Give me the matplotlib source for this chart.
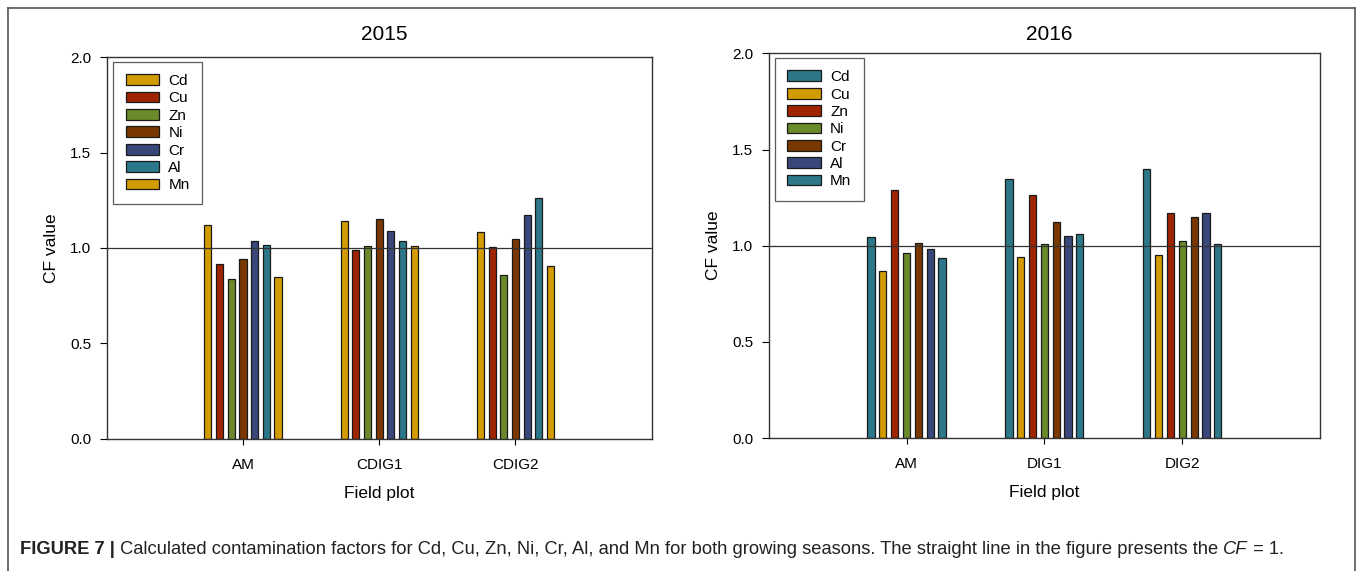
import matplotlib
matplotlib.use("Agg")
import matplotlib.pyplot as plt
import numpy as np
from matplotlib.patches import Patch
from matplotlib.lines import Line2D

plt.rcParams['font.family'] = ['Liberation Sans', 'DejaVu Sans']

# ---- data ----
plots_2015 = ["AM", "CDIG1", "CDIG2"]
metals_2015 = ["Cd", "Cu", "Zn", "Ni", "Cr", "Al", "Mn"]
cf_2015 = {
    "Cd": [1.118, 1.144, 1.083],
    "Cu": [0.917, 0.990, 1.004],
    "Zn": [0.836, 1.013, 0.857],
    "Ni": [0.940, 1.150, 1.048],
    "Cr": [1.036, 1.090, 1.172],
    "Al": [1.017, 1.036, 1.262],
    "Mn": [0.850, 1.010, 0.906],
}
colors_2015 = ["#D29B00", "#A02400", "#6B8A2A", "#7A3800", "#3A477A", "#2C788A", "#D29B00"]

plots_2016 = ["AM", "DIG1", "DIG2"]
metals_2016 = ["Cd", "Cu", "Zn", "Ni", "Cr", "Al", "Mn"]
cf_2016 = {
    "Cd": [1.045, 1.347, 1.397],
    "Cu": [0.867, 0.939, 0.952],
    "Zn": [1.288, 1.265, 1.172],
    "Ni": [0.964, 1.009, 1.024],
    "Cr": [1.014, 1.123, 1.147],
    "Al": [0.981, 1.050, 1.170],
    "Mn": [0.934, 1.061, 1.009],
}
colors_2016 = ["#2C788A", "#D29B00", "#A02400", "#6B8A2A", "#7A3800", "#3A477A", "#2C788A"]

W, H = 1358, 571
fig = plt.figure(figsize=(W / 100, H / 100), dpi=100)

# outer frame
fc = "#555555"
fig.add_artist(Line2D([8/W, 8/W], [0, 1-8/H], color=fc, lw=1.2, transform=fig.transFigure))
fig.add_artist(Line2D([8/W, 1355/W], [1-8/H, 1-8/H], color=fc, lw=1.2, transform=fig.transFigure))
fig.add_artist(Line2D([1355/W, 1355/W], [0, 1-8/H], color=fc, lw=1.2, transform=fig.transFigure))

def draw(ax, cats, metals, data, colors, title):
    x = np.arange(1, len(cats) + 1)
    step = 0.0857
    width = 0.052
    n = len(metals)
    for i, m in enumerate(metals):
        off = (i - (n - 1) / 2) * step
        ax.bar(x + off, data[m], width=width, color=colors[i], edgecolor="#1a1a1a", linewidth=0.9, zorder=2)
    ax.axhline(1.0, color="#333333", lw=0.9, zorder=3)
    ax.set_xlim(0, 4)
    ax.set_ylim(0, 2.0)
    ax.set_xticks(x)
    ax.set_xticklabels(cats, fontsize=11)
    ax.set_yticks([0.0, 0.5, 1.0, 1.5, 2.0])
    ax.set_yticklabels(["0.0", "0.5", "1.0", "1.5", "2.0"], fontsize=11)
    ax.tick_params(direction="out", length=5, width=0.8, pad=6)
    ax.tick_params(axis='x', length=4, pad=10)
    for s in ax.spines.values():
        s.set_linewidth(1.0)
        s.set_color("#333333")
    ax.set_xlabel("Field plot", fontsize=12.5, labelpad=10)
    ax.set_ylabel("CF value", fontsize=12.5, labelpad=8)
    bb = ax.get_position()
    fig.text((bb.x0 + bb.x1) / 2 + 5 / W, 1 - 34 / H, title, fontsize=15, ha="center", va="center")
    handles = [Patch(facecolor=colors[i], edgecolor="#1a1a1a", linewidth=0.9, label=m) for i, m in enumerate(metals)]
    leg = ax.legend(handles=handles, loc="upper left", bbox_to_anchor=(0.012, 0.988), fontsize=11,
                    frameon=True, fancybox=False, edgecolor="#333333", handlelength=2.2, handleheight=0.7,
                    labelspacing=0.22, borderpad=0.8, handletextpad=0.6, borderaxespad=0.0)
    leg.get_frame().set_linewidth(0.9)

ax1 = fig.add_axes([0.0786, 0.2317, 0.4013, 0.668])
draw(ax1, plots_2015, metals_2015, cf_2015, colors_2015, "2015")
ax2 = fig.add_axes([0.566, 0.2329, 0.4062, 0.6737])
draw(ax2, plots_2016, metals_2016, cf_2016, colors_2016, "2016")

# caption built from pieces
fig.canvas.draw()
r = fig.canvas.get_renderer()
pieces = [
    ("FIGURE 7 |", dict(fontweight="bold")),
    (" Calculated contamination factors for Cd, Cu, Zn, Ni, Cr, Al, and Mn for both growing seasons. The straight line in the figure presents the ", {}),
    ("CF", dict(style="italic")),
    (" = 1.", {}),
]
xpos = 20 / W
ycap = 1 - 549 / H
for txt, kw in pieces:
    t = fig.text(xpos, ycap, txt, fontsize=13.2, va="center", ha="left", color="#222222", **kw)
    ext = t.get_window_extent(renderer=r)
    xpos += ext.width / W

fig.savefig("out.png", dpi=100)
